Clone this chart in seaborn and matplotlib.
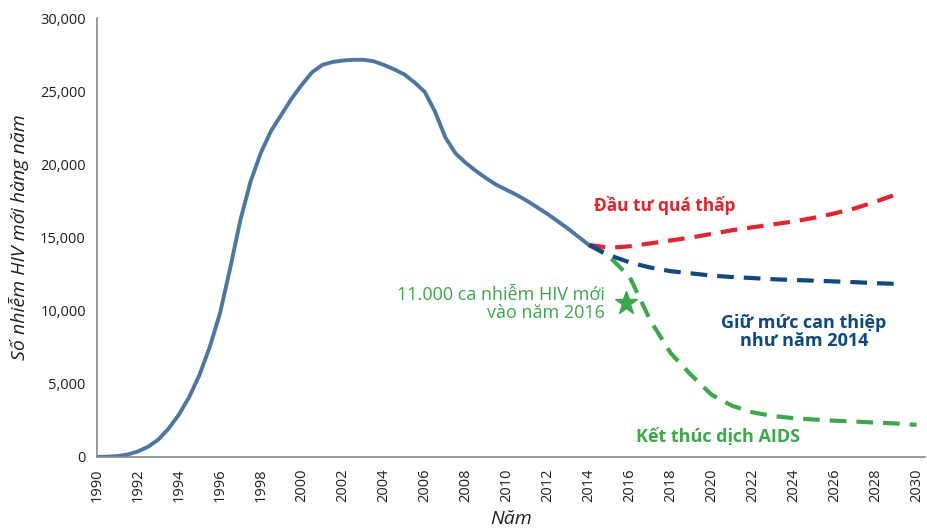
import numpy as np
import seaborn as sns
from matplotlib import pyplot as plt
from matplotlib import font_manager
from matplotlib.ticker import FuncFormatter

sns.set_style("white")
plt.rcParams["font.family"] = ["Open Sans", "DejaVu Sans"]

# historical estimate, read every half year
hist_years = np.arange(1990, 2014.01, 0.5)
hist_values = [
    0, 20, 60, 170, 380, 700, 1200, 1950, 2900, 4100,
    5600, 7500, 9800, 12900, 16200, 18850, 20800, 22300, 23400, 24500,
    25450, 26300, 26800, 27000, 27100, 27150, 27150, 27050, 26800, 26500,
    26150, 25600, 24950, 23600, 21850, 20750, 20100, 19550, 19050, 18600,
    18250, 17900, 17500, 17050, 16600, 16100, 15600, 15050, 14500,
]

# projections from 2014
proj_years = list(range(2014, 2030))
low_invest = [14500, 14300, 14400, 14600, 14800, 15000, 15250, 15500,
              15700, 15900, 16100, 16350, 16650, 17000, 17450, 17950]
keep_2014 = [14500, 13800, 13300, 12950, 12700, 12550, 12400, 12300,
             12230, 12150, 12100, 12050, 12000, 11950, 11880, 11830]
end_years = list(range(2014, 2031))
end_aids = [14500, 13700, 12300, 9350, 7100, 5600, 4250, 3500, 3050,
            2800, 2650, 2560, 2480, 2420, 2350, 2290, 2200]

star_year, star_value = 2015.8, 10500

c_hist = "#4a77a3"
c_red = "#e8212b"
c_navy = "#0b4a83"
c_green = "#3aa948"

installed = {f.name for f in font_manager.fontManager.ttflist}
if "Liberation Sans Narrow" in installed:
    tick_font, tick_size = "Liberation Sans Narrow", 12
else:
    tick_font, tick_size = "Open Sans", 10.5

fig = plt.figure(figsize=(9.28, 5.32), dpi=100)
ax = fig.add_axes([0.1045, 0.141, 0.892, 0.825])

dash = (4, 2.4)
sns.lineplot(x=proj_years, y=low_invest, color=c_red, lw=3, ax=ax)
ax.lines[-1].set_dashes(dash)
sns.lineplot(x=end_years, y=end_aids, color=c_green, lw=3, ax=ax)
ax.lines[-1].set_dashes(dash)
sns.lineplot(x=proj_years, y=keep_2014, color=c_navy, lw=3, ax=ax)
ax.lines[-1].set_dashes(dash)
sns.lineplot(x=hist_years, y=hist_values, color=c_hist, lw=2.8, ax=ax)
ax.lines[-1].set_solid_joinstyle("round")
ax.lines[-1].set_solid_capstyle("butt")

ax.plot(star_year, star_value, marker="*", ms=17, color=c_green, mec=c_green)

ax.text(2017.7, 17200, "Đầu tư quá thấp", color=c_red, fontsize=12.4,
        fontweight="bold", ha="center", va="center")
ax.text(2024.5, 8550, "Giữ mức can thiệp\nnhư năm 2014", color=c_navy,
        fontsize=13, fontweight="bold", ha="center", va="center",
        linespacing=1.05)
ax.text(2020.3, 1400, "Kết thúc dịch AIDS", color=c_green, fontsize=13,
        fontweight="bold", ha="center", va="center")
ax.text(2014.8, 10450, "11.000 ca nhiễm HIV mới\nvào năm 2016", color=c_green,
        fontsize=13, ha="right", va="center", linespacing=1.05)

ax.set_xlim(1990, 2030.4)
ax.set_ylim(0, 30000)
ax.set_xticks(range(1990, 2031, 2))
ax.set_yticks(range(0, 30001, 5000))
ax.yaxis.set_major_formatter(FuncFormatter(lambda v, _: f"{int(v):,}"))
ax.tick_params(length=5, width=1, color="#888888", labelsize=tick_size,
               labelcolor="#231f20", pad=3)
ax.tick_params(axis="x", labelrotation=90)
for lab in ax.get_xticklabels() + ax.get_yticklabels():
    lab.set_family([tick_font, "DejaVu Sans"])

sns.despine(ax=ax)
for s in ("left", "bottom"):
    ax.spines[s].set_color("#888888")
    ax.spines[s].set_linewidth(1.2)

ax.set_xlabel("Năm", fontsize=14, style="italic", color="#231f20", labelpad=6)
ax.set_ylabel("Số nhiễm HIV mới hàng năm", fontsize=14, style="italic",
              color="#231f20", labelpad=8)

plt.savefig("out.png", dpi=100)
